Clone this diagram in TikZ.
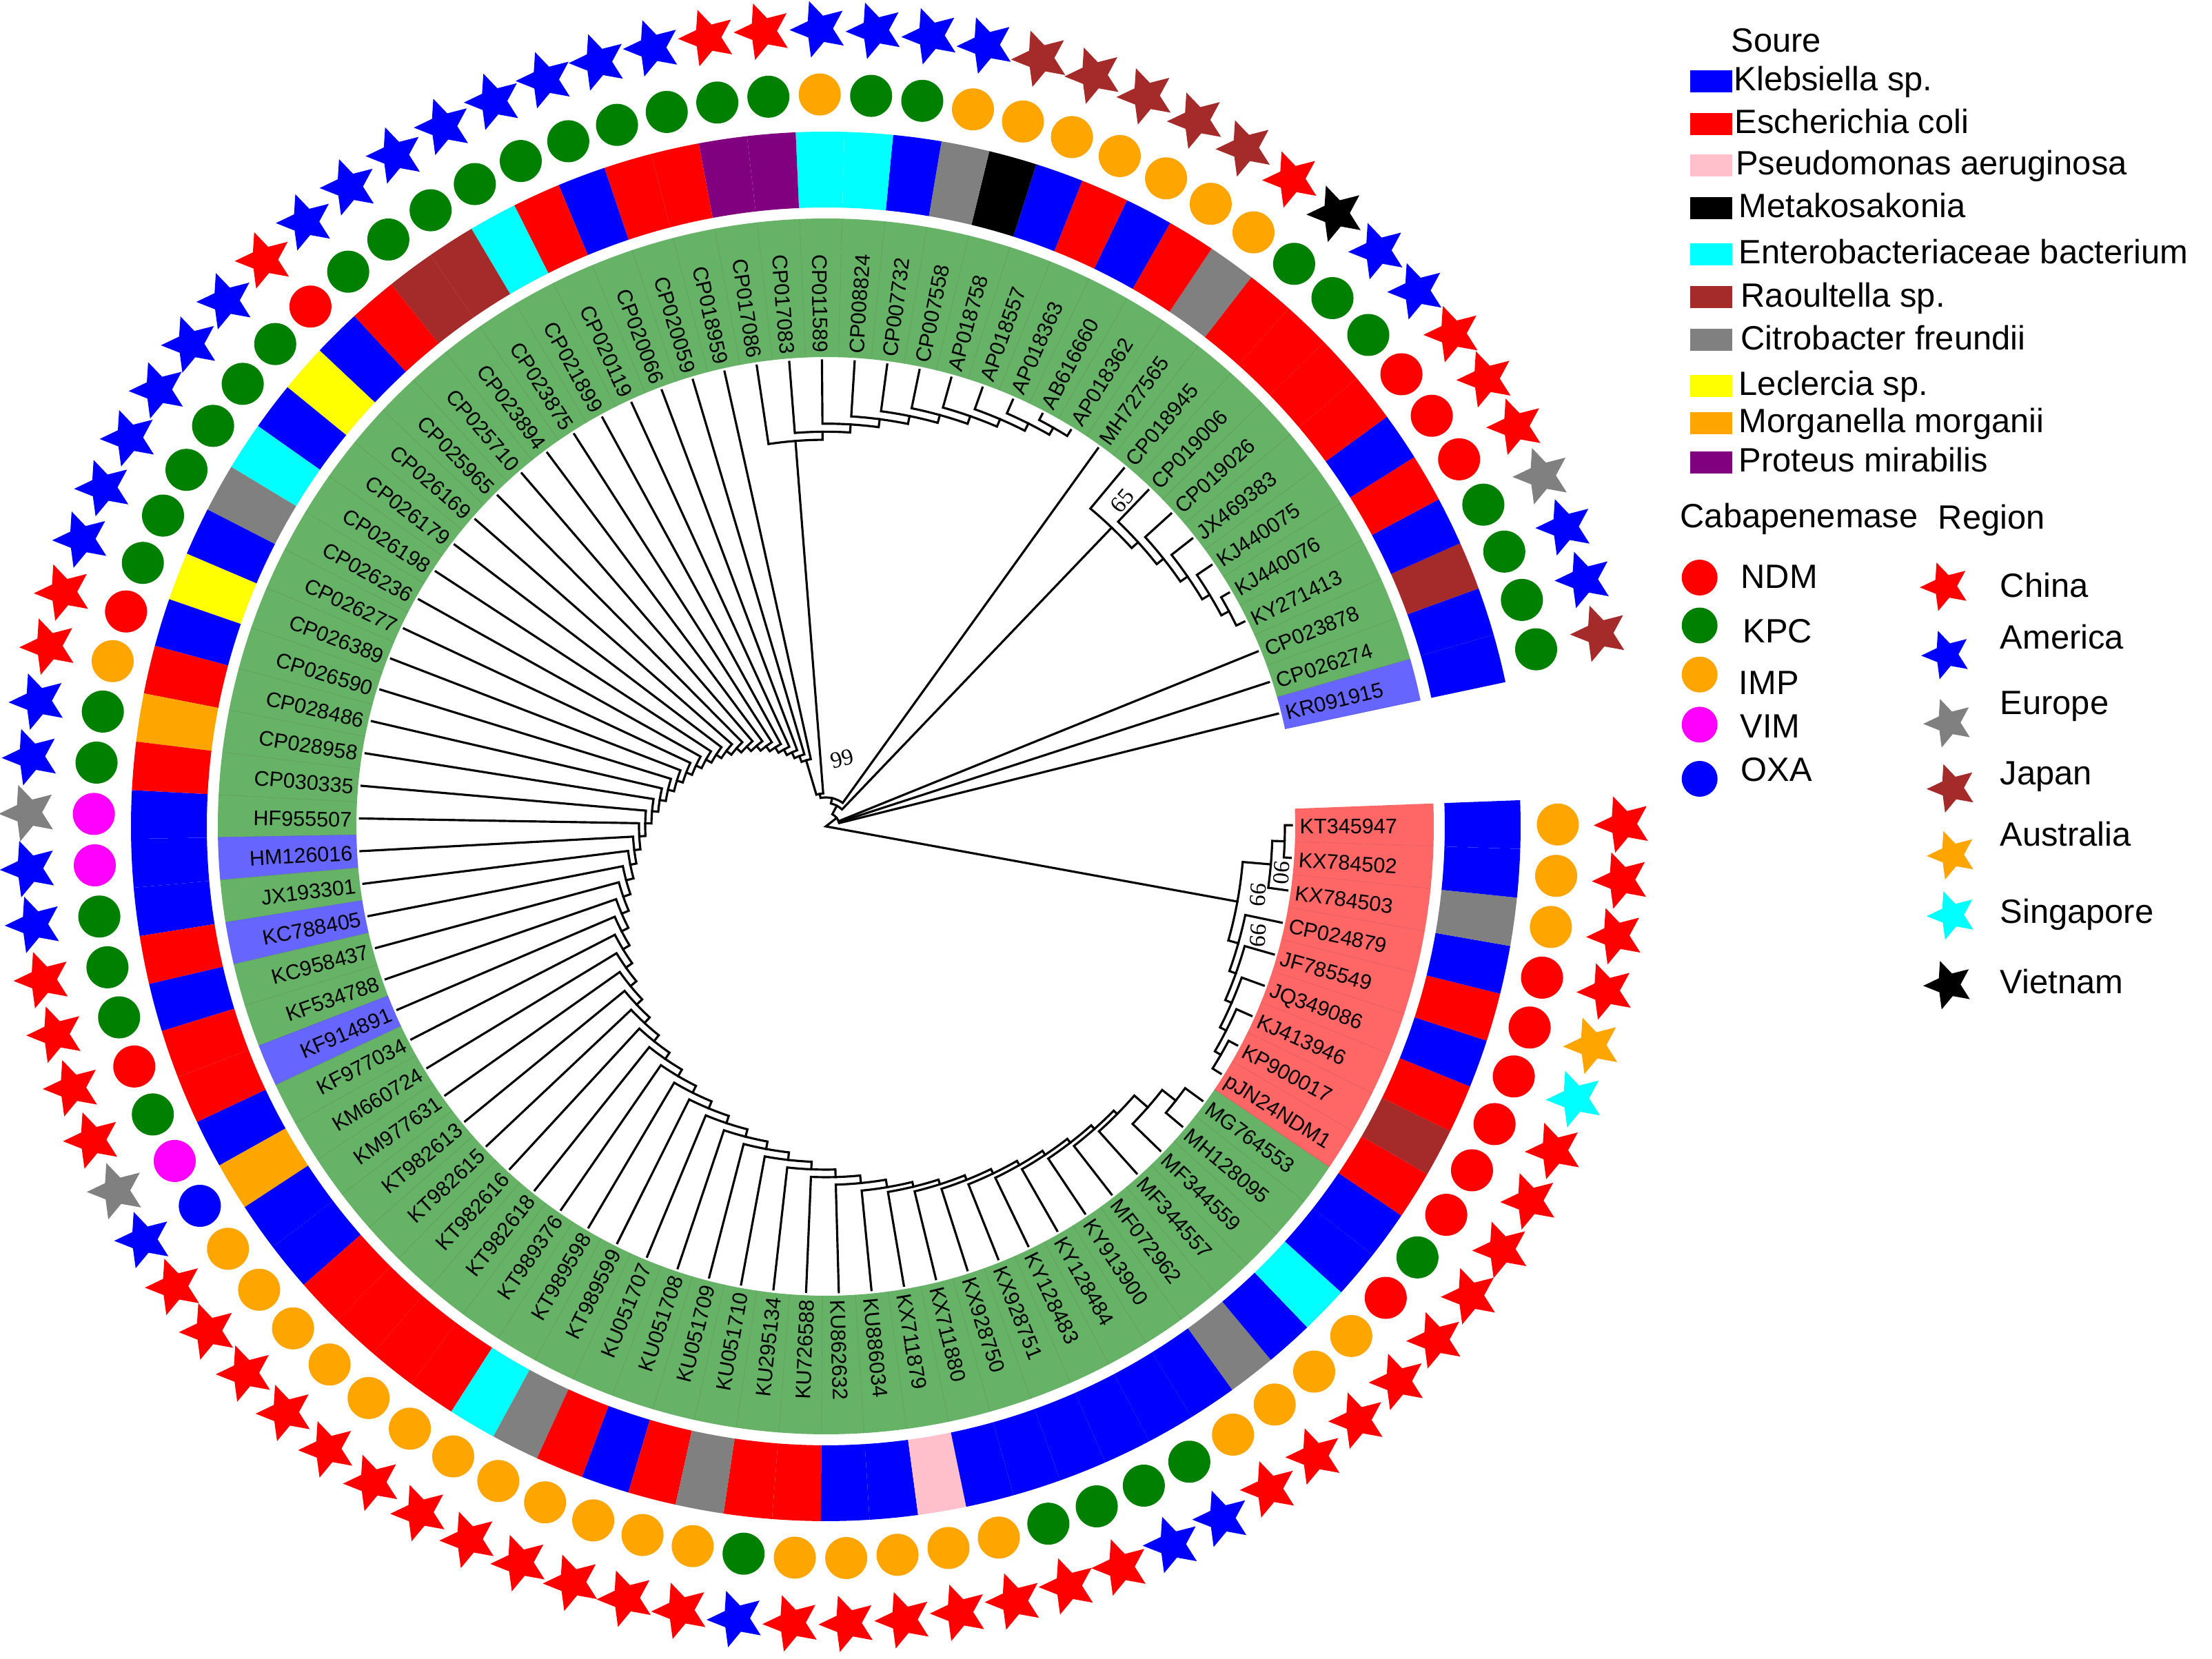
\documentclass[tikz,border=0pt]{standalone}
\usepackage{fontspec}
\setmainfont{Liberation Sans}
\newfontfamily\bsfont{Liberation Serif}
\usetikzlibrary{shapes.geometric}
\definecolor{lgreen}{RGB}{102,178,102}
\definecolor{lred}{RGB}{255,102,102}
\definecolor{lblue}{RGB}{102,102,255}
\definecolor{cB}{RGB}{0,0,255}
\definecolor{cR}{RGB}{255,0,0}
\definecolor{cPk}{RGB}{255,192,203}
\definecolor{cBk}{RGB}{0,0,0}
\definecolor{cCy}{RGB}{0,255,255}
\definecolor{cBr}{RGB}{165,42,42}
\definecolor{cGy}{RGB}{128,128,128}
\definecolor{cYe}{RGB}{255,255,0}
\definecolor{cOr}{RGB}{255,165,0}
\definecolor{cPu}{RGB}{128,0,128}
\definecolor{cG}{RGB}{0,128,0}
\definecolor{cM}{RGB}{255,0,255}
\tikzset{
  tree/.style={line width=0.9pt, line cap=rect, line join=miter, black},
  lab/.style={font=\fontsize{8.7}{10}\selectfont, inner sep=0pt, text height=0.72em, text depth=0pt},
  leg/.style={font=\fontsize{13.9}{16}\selectfont, inner sep=0pt, anchor=base west},
  rstar/.style={star, star points=5, star point ratio=2.15, inner sep=0pt, minimum size=0.86cm, rotate=20, draw=none},
  lstar/.style={rstar, minimum size=0.74cm},
  dot/.style={circle, inner sep=0pt, minimum size=0.61cm, draw=none},
  boot/.style={font=\bsfont\fontsize{9.5}{11}\selectfont, inner sep=0pt},
}
\begin{document}
\begin{tikzpicture}
\useasboundingbox (0,0) rectangle (32.09,24.07);
\begin{scope}[shift={(11.98,12.08)}]
\foreach \i/\nm/\bg/\src/\cb/\rg in {
1/KR091915/lblue/cB/cG/cBr,
2/CP026274/lgreen/cB/cG/cB,
3/CP023878/lgreen/cBr/cG/cB,
4/KY271413/lgreen/cB/cG/cGy,
5/KJ440076/lgreen/cR/cR/cR,
6/KJ440075/lgreen/cB/cR/cR,
7/JX469383/lgreen/cR/cR/cR,
8/CP019026/lgreen/cR/cG/cB,
9/CP019006/lgreen/cR/cG/cB,
10/CP018945/lgreen/cR/cG/cBk,
11/MH727565/lgreen/cGy/cOr/cR,
12/AP018362/lgreen/cR/cOr/cBr,
13/AB616660/lgreen/cB/cOr/cBr,
14/AP018363/lgreen/cR/cOr/cBr,
15/AP018557/lgreen/cB/cOr/cBr,
16/AP018758/lgreen/cBk/cOr/cBr,
17/CP007558/lgreen/cGy/cOr/cB,
18/CP007732/lgreen/cB/cG/cB,
19/CP008824/lgreen/cCy/cG/cB,
20/CP011589/lgreen/cCy/cOr/cB,
21/CP017083/lgreen/cPu/cG/cR,
22/CP017086/lgreen/cPu/cG/cR,
23/CP018959/lgreen/cR/cG/cB,
24/CP020059/lgreen/cR/cG/cB,
25/CP020066/lgreen/cB/cG/cB,
26/CP020119/lgreen/cR/cG/cB,
27/CP021899/lgreen/cCy/cG/cB,
28/CP023875/lgreen/cBr/cG/cB,
29/CP023894/lgreen/cBr/cG/cB,
30/CP025710/lgreen/cR/cG/cB,
31/CP025965/lgreen/cB/cR/cR,
32/CP026169/lgreen/cYe/cG/cB,
33/CP026179/lgreen/cB/cG/cB,
34/CP026198/lgreen/cCy/cG/cB,
35/CP026236/lgreen/cGy/cG/cB,
36/CP026277/lgreen/cB/cG/cB,
37/CP026389/lgreen/cYe/cG/cB,
38/CP026590/lgreen/cB/cR/cR,
39/CP028486/lgreen/cR/cOr/cR,
40/CP028958/lgreen/cOr/cG/cB,
41/CP030335/lgreen/cR/cG/cB,
42/HF955507/lgreen/cB/cM/cGy,
43/HM126016/lblue/cB/cM/cB,
44/JX193301/lgreen/cB/cG/cB,
45/KC788405/lblue/cR/cG/cR,
46/KC958437/lgreen/cB/cG/cR,
47/KF534788/lgreen/cR/cR/cR,
48/KF914891/lblue/cR/cG/cR,
49/KF977034/lgreen/cB/cM/cGy,
50/KM660724/lgreen/cOr/cB/cB,
51/KM977631/lgreen/cB/cOr/cR,
52/KT982613/lgreen/cB/cOr/cR,
53/KT982615/lgreen/cR/cOr/cR,
54/KT982616/lgreen/cR/cOr/cR,
55/KT982618/lgreen/cR/cOr/cR,
56/KT989376/lgreen/cR/cOr/cR,
57/KT989598/lgreen/cCy/cOr/cR,
58/KT989599/lgreen/cGy/cOr/cR,
59/KU051707/lgreen/cR/cOr/cR,
60/KU051708/lgreen/cB/cOr/cR,
61/KU051709/lgreen/cR/cOr/cR,
62/KU051710/lgreen/cGy/cOr/cR,
63/KU295134/lgreen/cR/cG/cB,
64/KU726588/lgreen/cR/cOr/cR,
65/KU862632/lgreen/cB/cOr/cR,
66/KU886034/lgreen/cB/cOr/cR,
67/KX711879/lgreen/cPk/cOr/cR,
68/KX711880/lgreen/cB/cOr/cR,
69/KX928750/lgreen/cB/cG/cR,
70/KX928751/lgreen/cB/cG/cR,
71/KY128483/lgreen/cB/cG/cB,
72/KY128484/lgreen/cB/cG/cB,
73/KY913900/lgreen/cB/cOr/cR,
74/MF072962/lgreen/cGy/cOr/cR,
75/MF344557/lgreen/cB/cOr/cR,
76/MF344559/lgreen/cCy/cOr/cR,
77/MH128095/lgreen/cB/cR/cR,
78/MG764553/lgreen/cB/cG/cR,
79/pJN24NDM1/lred/cR/cR/cR,
80/KP900017/lred/cBr/cR/cR,
81/KJ413946/lred/cR/cR/cR,
82/JQ349086/lred/cB/cR/cCy,
83/JF785549/lred/cR/cR/cOr,
84/CP024879/lred/cB/cR/cR,
85/KX784503/lred/cGy/cOr/cR,
86/KX784502/lred/cB/cOr/cR,
87/KT345947/lred/cB/cOr/cR}{
  \pgfmathsetmacro\ang{14+(\i-1)*4.025}
  \pgfmathsetmacro\aa{\ang-2.0125}
  \pgfmathsetmacro\ab{\ang+2.0125}
  \fill[\bg] (\aa:6.81) arc[start angle=\aa,end angle=\ab,radius=6.81] -- (\ab:8.82) arc[start angle=\ab,end angle=\aa,radius=8.82] -- cycle;
  \draw[\bg!85!black, line width=0.15pt] (\aa:6.81) -- (\aa:8.82);
  \fill[\src] (\aa:8.98) arc[start angle=\aa,end angle=\ab,radius=8.98] -- (\ab:10.08) arc[start angle=\ab,end angle=\aa,radius=10.08] -- cycle;
  \node[dot, fill=\cb] (C\i) at (\ang:10.62) {};
  \node[rstar, fill=\rg] (S\i) at (\ang:11.57) {};
  \ifdim\ang pt<90pt \def\rot{\ang}\def\anc{west}\else
    \ifdim\ang pt>270pt \def\rot{\ang}\def\anc{west}\else
      \pgfmathsetmacro\rot{\ang+180}\def\anc{east}\fi\fi
  \node[lab, rotate=\rot, anchor=\anc] (L\i) at (\ang:6.87) {\nm};
}
% ---------- tree: main caterpillar
\pgfmathsetmacro\tmpa{14+77*4.025}
\xdef\cang{\tmpa}\xdef\crad{6.76}
\foreach \k in {77,76,...,23}{
  \pgfmathsetmacro\ak{14+(\k-1)*4.025}
  \pgfmathsetmacro\rk{\k<44.5 ? 1.0+(\k-23)*0.09 : (\k<66.5 ? 2.89+(\k-44)*0.11 : (\k<75.5 ? 5.31+(\k-66)*0.07 : (\k<76.5 ? 6.2 : 6.45)))}
  \draw[tree] (\ak:6.76) -- (\ak:\rk) arc[start angle=\ak, end angle=\cang, radius=\rk] -- (\cang:\crad);
  \pgfmathsetmacro\tmpa{(\ak+\cang)/2}
  \xdef\cang{\tmpa}\xdef\crad{\rk}
}
\xdef\angM{\cang}\xdef\radM{\crad}
% ---------- 99 subclade
\pgfmathsetmacro\tmpa{14+11*4.025}
\xdef\cang{\tmpa}\xdef\crad{6.76}
\foreach \k in {13,...,22}{
  \pgfmathsetmacro\ak{14+(\k-1)*4.025}
  \pgfmathsetmacro\rk{6.66-(\k-13)*0.1167}
  \draw[tree] (\ak:6.76) -- (\ak:\rk) arc[start angle=\ak, end angle=\cang, radius=\rk] -- (\cang:\crad);
  \pgfmathsetmacro\tmpa{(\ak+\cang)/2}
  \xdef\cang{\tmpa}\xdef\crad{\rk}
}
\xdef\angS{\cang}\xdef\radS{\crad}
% ---------- 65 subclade
\pgfmathsetmacro\tmpa{14+3*4.025}
\xdef\cang{\tmpa}\xdef\crad{6.76}
\foreach \k in {5,...,10}{
  \pgfmathsetmacro\ak{14+(\k-1)*4.025}
  \pgfmathsetmacro\rk{6.63-(\k-5)*0.126}
  \draw[tree] (\ak:6.76) -- (\ak:\rk) arc[start angle=\ak, end angle=\cang, radius=\rk] -- (\cang:\crad);
  \pgfmathsetmacro\tmpa{(\ak+\cang)/2}
  \xdef\cang{\tmpa}\xdef\crad{\rk}
}
\xdef\angN{\cang}\xdef\radN{\crad}
% ---------- red clade, lower ladder
\pgfmathsetmacro\tmpa{14+78*4.025}
\xdef\cang{\tmpa}\xdef\crad{6.76}
\foreach \k in {80,...,84}{
  \pgfmathsetmacro\ak{14+(\k-1)*4.025}
  \pgfmathsetmacro\rk{6.62-(\k-80)*0.1}
  \draw[tree] (\ak:6.76) -- (\ak:\rk) arc[start angle=\ak, end angle=\cang, radius=\rk] -- (\cang:\crad);
  \pgfmathsetmacro\tmpa{(\ak+\cang)/2}
  \xdef\cang{\tmpa}\xdef\crad{\rk}
}
\xdef\angC{\cang}\xdef\radC{\crad}
% red clade, upper part
\draw[tree] (356.125:6.76) -- (356.125:6.66) arc[start angle=356.125, end angle=360.15, radius=6.66] -- (360.15:6.76);
\draw[tree] (352.1:6.76) -- (352.1:6.48) arc[start angle=352.1, end angle=358.1375, radius=6.48] -- (358.1375:6.66);
\draw[tree] (\angC:\radC) -- (\angC:6.07) arc[start angle=\angC, end angle=355.11875, radius=6.07] -- (355.11875:6.48);
\pgfmathsetmacro\angR{(\angC+355.11875)/2}
% ---------- nodes near the root
\draw[tree] (\angS:\radS) -- (\angS:0.48) arc[start angle=\angS, end angle=\angM, radius=0.48] -- (\angM:\radM);
\pgfmathsetmacro\angPfour{(\angS+\angM)/2}
\draw[tree] (54.25:6.76) -- (54.25:0.42) arc[start angle=54.25, end angle=\angPfour, radius=0.42] -- (\angPfour:0.48);
\pgfmathsetmacro\angPthree{(54.25+\angPfour)/2}
\draw[tree] (\angN:\radN) -- (\angN:0.34) arc[start angle=\angN, end angle=\angPthree, radius=0.34] -- (\angPthree:0.42);
\pgfmathsetmacro\angPtwo{(\angN+\angPthree)/2}
\draw[tree] (14:6.76) -- (14:0.2) arc[start angle=14, end angle=\angPtwo, radius=0.2] -- (\angPtwo:0.34);
\draw[tree] (18.025:0.2) -- (18.025:6.76);
\draw[tree] (22.05:0.2) -- (22.05:6.76);
\pgfmathsetmacro\angPone{(14+\angPtwo)/2}
\coordinate (root) at (0,0);
\draw[tree] (\angR:6.07) -- (root) -- (\angPone:0.2);
\end{scope}
% bootstrap values
\node[boot, rotate=15] (b1) at (12.22,13.06) {99};
\node[boot, rotate=50] (b2) at (16.28,16.80) {65};
\node[boot, rotate=-95] (b3) at (18.25,11.09) {99};
\node[boot, rotate=-95] (b4) at (18.25,10.50) {99};
\node[boot, rotate=-95] (b5) at (18.59,11.41) {90};
% ---------- legend: source
\node[leg] (hs) at (25.11,23.31) {Soure};
\foreach \cy/\col/\txt/\tx [count=\n] in {118/cB/{Klebsiella sp.}/25.15, 180/cR/{Escherichia coli}/25.16, 240/cPk/{Pseudomonas aeruginosa}/25.175, 302/cBk/{Metakosakonia}/25.22, 369/cCy/{Enterobacteriaceae bacterium}/25.22, 431.5/cBr/{Raoultella sp.}/25.25, 493.5/cGy/{Citrobacter freundii}/25.25, 560/cYe/{Leclercia sp.}/25.22, 614/cOr/{Morganella morganii}/25.22, 671/cPu/{Proteus mirabilis}/25.22}{
  \node[rectangle, fill=\col, minimum width=0.61cm, minimum height=0.32cm, inner sep=0pt] (sq\n) at (24.825,{(2407-\cy)/100}) {};
  \node[leg] (st\n) at (\tx,{(2407-\cy-14)/100}) {\txt};
}
% ---------- legend: carbapenemase
\node[leg] (hc) at (24.37,16.416) {Cabapenemase};
\node[leg] (hr) at (28.11,16.39) {Region};
\foreach \cy/\col/\txt/\tx/\by [count=\n] in {838/cR/NDM/25.25/854, 907.5/cG/KPC/25.28/932.7, 978.7/cOr/IMP/25.22/1007.8, 1051.4/cM/VIM/25.24/1070.8, 1130/cB/OXA/25.25/1133.8}{
  \node[circle, fill=\col, minimum size=0.52cm, inner sep=0pt] (cd\n) at (24.657,{(2407-\cy)/100}) {};
  \node[leg] (ct\n) at (\tx,{(2407-\by)/100}) {\txt};
}
% ---------- legend: region
\foreach \sx/\sy/\col/\txt/\by [count=\n] in {2822/851/cR/China/867, 2824/950/cB/America/942, 2827/1049/cGy/Europe/1037, 2832/1143.5/cBr/Japan/1139, 2832/1240.6/cOr/Australia/1228, 2832/1328/cCy/Singapore/1340, 2827/1429/cBk/Vietnam/1442}{
  \node[lstar, fill=\col] (rs\n) at ({\sx/100},{(2407-\sy)/100}) {};
  \node[leg] (rt\n) at (29.01,{(2407-\by)/100}) {\txt};
}
\end{tikzpicture}
\end{document}
